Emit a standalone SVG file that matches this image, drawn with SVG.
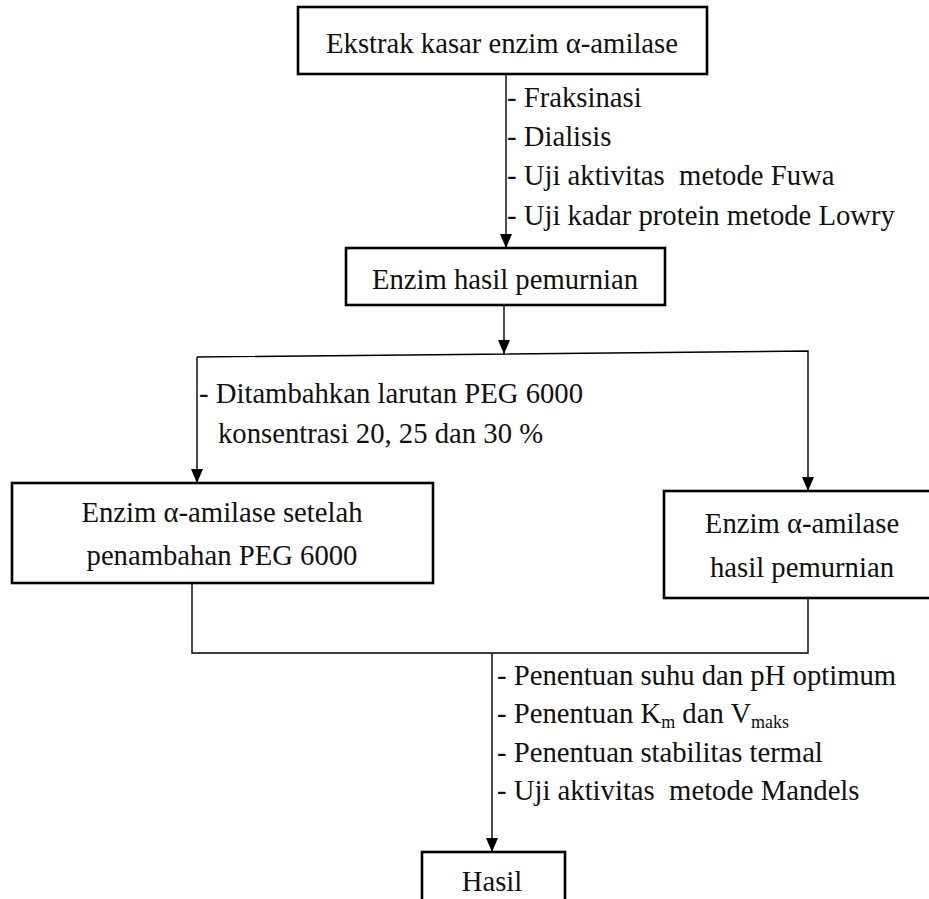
<svg xmlns="http://www.w3.org/2000/svg" width="929" height="899" viewBox="0 0 929 899">
<defs>
<style>
.box{fill:#fff;stroke:#000;stroke-width:2.6}
.ln{fill:none;stroke:#000;stroke-width:1.4}
text{font-family:"Liberation Serif","Times New Roman",serif;font-size:28.7px;fill:#111}
.c{text-anchor:middle}
.sub{font-size:18px}
</style>
<marker id="ah" viewBox="0 0 14 12" refX="14" refY="6" markerWidth="14" markerHeight="12" markerUnits="userSpaceOnUse" orient="auto">
<path d="M0,0 L14,6 L0,12 z" fill="#000"/>
</marker>
</defs>
<rect width="929" height="899" fill="#fff"/>
<g id="connectors">
<line class="ln" x1="506" y1="74" x2="506" y2="248" marker-end="url(#ah)"/>
<line class="ln" x1="504" y1="305" x2="504" y2="354" marker-end="url(#ah)"/>
<polyline class="ln" points="197,357 808,351 808,491" marker-end="url(#ah)"/>
<line class="ln" x1="197" y1="357" x2="197" y2="483" marker-end="url(#ah)"/>
<polyline class="ln" points="192,583 192,653 808,653 808,598"/>
<line class="ln" x1="492" y1="653" x2="492" y2="852" marker-end="url(#ah)"/>
</g>
<g id="labels">
<text x="507" y="107">- Fraksinasi</text>
<text x="507" y="146">- Dialisis</text>
<text x="507" y="185" xml:space="preserve">- Uji aktivitas  metode Fuwa</text>
<text x="507" y="225">- Uji kadar protein metode Lowry</text>
<text x="199" y="403">- Ditambahkan larutan PEG 6000</text>
<text x="218" y="443">konsentrasi 20, 25 dan 30 %</text>
<text x="497" y="685">- Penentuan suhu dan pH optimum</text>
<text x="497" y="723">- Penentuan K<tspan class="sub" dy="5">m</tspan><tspan dy="-5"> dan V</tspan><tspan class="sub" dy="5">maks</tspan></text>
<text x="497" y="762">- Penentuan stabilitas termal</text>
<text x="497" y="800" xml:space="preserve">- Uji aktivitas  metode Mandels</text>
</g>
<g id="n1">
<rect class="box" x="298" y="7" width="409" height="67"/>
<text class="c" x="502" y="53">Ekstrak kasar enzim α-amilase</text>
</g>
<g id="n2">
<rect class="box" x="346" y="248" width="319" height="57"/>
<text class="c" x="505" y="289">Enzim hasil pemurnian</text>
</g>
<g id="n3">
<rect class="box" x="12" y="483" width="421" height="100"/>
<text class="c" x="222" y="522">Enzim α-amilase setelah</text>
<text class="c" x="222" y="565">penambahan PEG 6000</text>
</g>
<g id="n4">
<rect class="box" x="664" y="491" width="280" height="107"/>
<text class="c" x="802" y="533">Enzim α-amilase</text>
<text class="c" x="802" y="577">hasil pemurnian</text>
</g>
<g id="n5">
<rect class="box" x="422" y="852" width="143" height="60"/>
<text class="c" x="492" y="891">Hasil</text>
</g>
</svg>
